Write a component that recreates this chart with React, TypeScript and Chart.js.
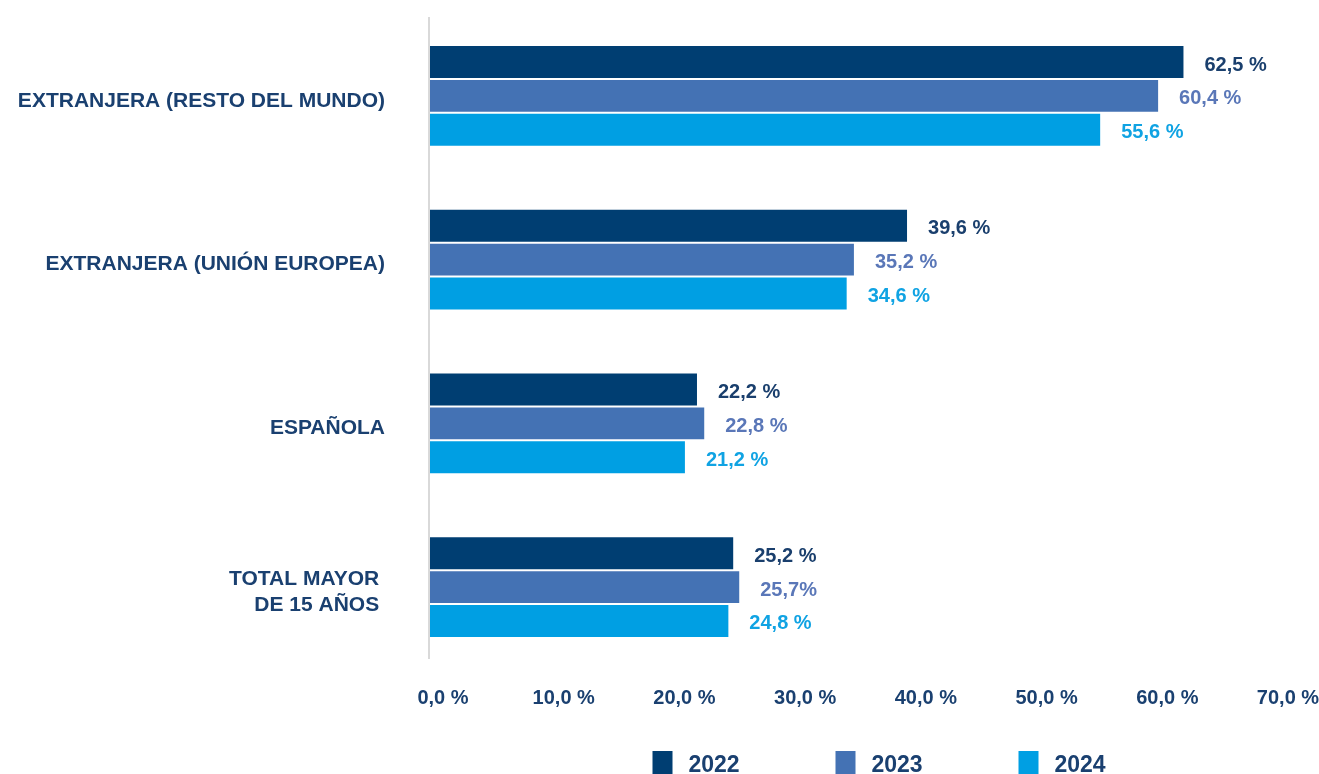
import React, { useEffect, useRef } from "react";
import { Chart, registerables } from "chart.js";

Chart.register(...registerables);

const CATEGORIES: (string | string[])[] = [
  "EXTRANJERA (RESTO DEL MUNDO)",
  "EXTRANJERA (UNIÓN EUROPEA)",
  "ESPAÑOLA",
  ["TOTAL MAYOR ", "DE 15 AÑOS "],
];
const SERIES_NAMES = ["2022", "2023", "2024"];
const VALUES_2022 = [62.5, 39.6, 22.2, 25.2];
const VALUES_2023 = [60.4, 35.2, 22.8, 25.7];
const VALUES_2024 = [55.6, 34.6, 21.2, 24.8];
const LABELS_2022 = ["62,5 %", "39,6 %", "22,2 %", "25,2 %"];
const LABELS_2023 = ["60,4 %", "35,2 %", "22,8 %", "25,7%"];
const LABELS_2024 = ["55,6 %", "34,6 %", "21,2 %", "24,8 %"];
const X_MIN = 0;
const X_MAX = 70;
const X_STEP = 10;

const BAR_COLORS = ["#003E72", "#4472B4", "#009FE3"];
const LABEL_COLORS = ["#1A3F6D", "#5A77B8", "#10A3E3"];
const NAVY = "#1A4070";
const FONT = "'Liberation Sans', Arial, Helvetica, sans-serif";

const valueLabelPlugin = {
  id: "valueLabels",
  afterDatasetsDraw(chart: any) {
    const ctx = chart.ctx;
    const allLabels = [LABELS_2022, LABELS_2023, LABELS_2024];
    ctx.save();
    ctx.font = `bold 20px ${FONT}`;
    ctx.textAlign = "left";
    ctx.textBaseline = "middle";
    chart.data.datasets.forEach((_ds: any, di: number) => {
      const meta = chart.getDatasetMeta(di);
      meta.data.forEach((bar: any, i: number) => {
        ctx.fillStyle = LABEL_COLORS[di];
        ctx.fillText(allLabels[di][i], bar.x + 20, bar.y + 3);
      });
    });
    ctx.restore();
  },
};

const axisLinePlugin = {
  id: "axisLine",
  beforeDatasetsDraw(chart: any) {
    const ctx = chart.ctx;
    const x = chart.scales.x.getPixelForValue(0);
    const { top, bottom } = chart.chartArea;
    ctx.save();
    ctx.strokeStyle = "#D9D9D9";
    ctx.lineWidth = 2;
    ctx.beginPath();
    ctx.moveTo(x - 1, top + 3);
    ctx.lineTo(x - 1, bottom - 10);
    ctx.stroke();
    ctx.restore();
  },
};

const legendPlugin = {
  id: "customLegend",
  afterDraw(chart: any) {
    const ctx = chart.ctx;
    const startX = chart.width / 2 - 7;
    const spacing = 183;
    ctx.save();
    ctx.font = `bold 23px ${FONT}`;
    ctx.textAlign = "left";
    ctx.textBaseline = "alphabetic";
    SERIES_NAMES.forEach((name, i) => {
      const x = startX + i * spacing;
      ctx.fillStyle = BAR_COLORS[i];
      ctx.fillRect(x, chart.height - 23, 20, 24);
      ctx.fillStyle = NAVY;
      ctx.fillText(name, x + 36, chart.height - 2);
    });
    ctx.restore();
  },
};

export default function App() {
  const canvasRef = useRef<HTMLCanvasElement | null>(null);

  useEffect(() => {
    document.body.style.margin = "0";
    const canvas = canvasRef.current;
    if (!canvas) return;
    const values = [VALUES_2022, VALUES_2023, VALUES_2024];
    const chart = new Chart(canvas, {
      type: "bar",
      data: {
        labels: CATEGORIES,
        datasets: SERIES_NAMES.map((name, i) => ({
          label: name,
          data: values[i],
          backgroundColor: BAR_COLORS[i],
          borderColor: "rgba(255,255,255,0.35)",
          borderWidth: 1,
          barPercentage: 1.0,
          categoryPercentage: 0.62,
        })),
      },
      options: {
        indexAxis: "y",
        responsive: true,
        maintainAspectRatio: false,
        animation: false,
        layout: { padding: { top: 14, right: 44, bottom: 47, left: 0 } },
        plugins: {
          legend: { display: false },
          tooltip: { enabled: false },
        },
        scales: {
          x: {
            min: X_MIN,
            max: X_MAX,
            grid: { display: false, drawTicks: false },
            border: { display: false },
            afterFit: (scale: any) => {
              scale.paddingLeft = 0;
              scale.paddingRight = 0;
            },
            ticks: {
              stepSize: X_STEP,
              padding: 17,
              labelOffset: 13,
              color: NAVY,
              font: { family: FONT, size: 20, weight: "bold" },
              callback: (v: any) => Number(v).toFixed(1).replace(".", ",") + " %",
            },
          },
          y: {
            grid: { display: false, drawTicks: false },
            border: { display: false },
            afterFit: (scale: any) => {
              scale.width = 430;
              scale.paddingTop = 0;
              scale.paddingBottom = 0;
            },
            ticks: {
              padding: 45,
              labelOffset: 5,
              color: NAVY,
              font: { family: FONT, size: 21, weight: "bold", lineHeight: 1.24 },
            },
          },
        },
      },
      plugins: [axisLinePlugin, valueLabelPlugin, legendPlugin],
    });
    return () => chart.destroy();
  }, []);

  return (
    <div style={{ width: 1319, height: 774, position: "relative" }}>
      <canvas ref={canvasRef} />
    </div>
  );
}
